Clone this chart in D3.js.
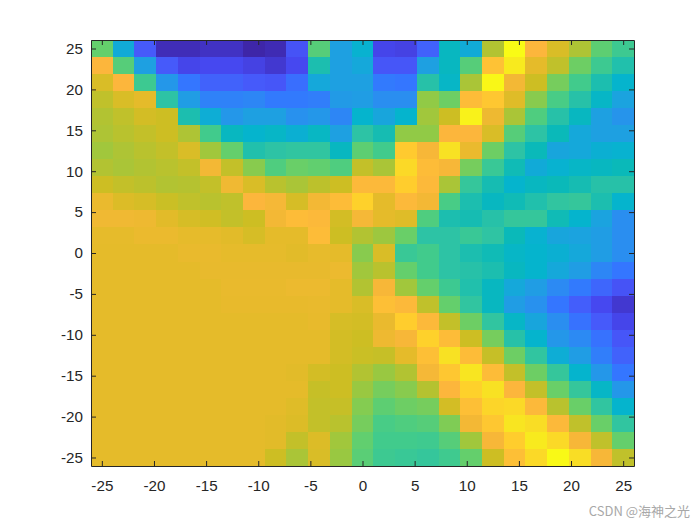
<!DOCTYPE html>
<html><head><meta charset="utf-8">
<script src="https://cdn.jsdelivr.net/npm/d3@7"></script>
<style>html,body{margin:0;padding:0;background:#fff}svg{display:block}</style>
</head><body><svg id="c" width="700" height="525"></svg>
<script>
const xTicks=[-25,-20,-15,-10,-5,0,5,10,15,20,25];
const yTicks=[-25,-20,-15,-10,-5,0,5,10,15,20,25];
const watermark="CSDN @海神之光";
const rows=[
[.63,.40,.17,.03,.03,.05,.05,.00,.02,.15,.61,.36,.43,.11,.10,.19,.46,.40,.72,1.0,.85,.78,.715,.62,.57],
[.85,.61,.36,.17,.11,.12,.12,.10,.07,.12,.50,.36,.39,.16,.16,.36,.46,.61,.87,.96,.80,.74,.64,.57,.51],
[.78,.85,.57,.33,.24,.19,.19,.17,.16,.22,.39,.36,.36,.25,.24,.52,.45,.71,.99,.83,.76,.65,.58,.50,.44],
[.74,.78,.80,.53,.35,.27,.27,.28,.25,.25,.26,.34,.35,.30,.30,.68,.64,.86,.88,.79,.67,.59,.52,.45,.37],
[.72,.74,.77,.76,.50,.41,.33,.36,.36,.31,.33,.28,.44,.38,.44,.70,.76,.98,.82,.71,.60,.52,.46,.36,.32],
[.715,.73,.745,.76,.715,.58,.46,.44,.45,.42,.455,.36,.53,.49,.68,.68,.85,.85,.78,.61,.53,.47,.39,.36,.36],
[.70,.715,.73,.745,.78,.70,.63,.51,.53,.54,.54,.46,.62,.58,.885,.84,.94,.81,.64,.53,.47,.38,.39,.42,.43],
[.72,.71,.72,.73,.745,.83,.745,.67,.60,.635,.625,.60,.745,.71,.92,.86,.84,.65,.56,.48,.40,.43,.45,.46,.47],
[.76,.745,.735,.72,.725,.745,.825,.78,.73,.71,.735,.76,.855,.855,.89,.855,.71,.55,.49,.44,.46,.47,.49,.52,.52],
[.81,.785,.775,.755,.74,.73,.74,.85,.835,.775,.83,.86,.90,.80,.855,.83,.59,.50,.46,.48,.51,.54,.55,.50,.44],
[.825,.825,.82,.795,.775,.765,.745,.76,.83,.86,.855,.77,.835,.80,.79,.60,.50,.49,.52,.55,.55,.48,.44,.37,.30],
[.802,.802,.812,.812,.802,.802,.795,.775,.80,.80,.86,.76,.72,.695,.635,.53,.53,.56,.535,.47,.43,.38,.37,.35,.30],
[.80,.80,.80,.80,.808,.808,.803,.803,.803,.795,.805,.80,.67,.78,.56,.58,.53,.50,.48,.45,.44,.42,.39,.35,.30],
[.80,.80,.80,.80,.80,.807,.807,.807,.807,.807,.807,.815,.70,.73,.63,.58,.53,.52,.50,.46,.44,.39,.35,.28,.24],
[.80,.80,.80,.80,.80,.80,.808,.808,.808,.815,.815,.80,.72,.84,.70,.63,.57,.51,.46,.39,.35,.29,.25,.20,.15],
[.80,.80,.80,.80,.80,.80,.806,.806,.806,.806,.808,.80,.78,.865,.855,.74,.63,.54,.46,.35,.31,.24,.18,.12,.07],
[.80,.80,.80,.80,.80,.80,.80,.80,.80,.80,.806,.775,.77,.81,.89,.855,.745,.64,.54,.45,.38,.30,.23,.17,.11],
[.80,.80,.80,.80,.80,.80,.80,.80,.80,.80,.80,.77,.76,.82,.84,.90,.86,.76,.65,.52,.44,.33,.29,.23,.16],
[.80,.80,.80,.80,.80,.80,.80,.80,.80,.80,.80,.77,.755,.75,.80,.865,.94,.86,.75,.64,.54,.41,.35,.26,.19],
[.80,.80,.80,.80,.80,.80,.80,.80,.80,.795,.77,.76,.72,.69,.72,.835,.88,.95,.86,.745,.64,.55,.44,.33,.24],
[.80,.80,.80,.80,.80,.80,.80,.80,.80,.80,.75,.76,.69,.65,.67,.725,.85,.90,.94,.85,.745,.635,.55,.45,.33],
[.80,.80,.80,.80,.80,.80,.80,.80,.80,.79,.745,.75,.665,.62,.64,.65,.77,.865,.91,.92,.855,.73,.635,.54,.44],
[.80,.80,.80,.80,.80,.80,.80,.80,.795,.785,.745,.73,.65,.59,.60,.61,.66,.83,.88,.95,.93,.855,.74,.635,.54],
[.80,.80,.80,.80,.80,.80,.80,.80,.795,.745,.785,.70,.625,.58,.58,.575,.61,.70,.84,.89,.96,.92,.84,.74,.63],
[.80,.80,.80,.80,.80,.80,.80,.80,.76,.71,.78,.69,.615,.57,.56,.55,.575,.63,.76,.865,.92,.995,.93,.84,.74]
];
const cmapStops=[0,.05,.12,.17,.24,.30,.36,.44,.47,.53,.58,.63,.68,.72,.76,.80,.85,.89,.94,1];
const cmapColors=["rgb(62,38,168)","rgb(65,50,195)","rgb(70,72,240)","rgb(70,90,250)","rgb(52,118,255)","rgb(42,142,240)","rgb(30,160,225)","rgb(5,180,205)","rgb(10,185,185)","rgb(45,195,165)","rgb(65,203,140)","rgb(100,207,108)","rgb(145,202,70)","rgb(178,195,50)","rgb(205,190,35)","rgb(229,187,42)","rgb(252,182,60)","rgb(255,205,45)","rgb(248,225,35)","rgb(249,251,21)"];

const L=91,R=634,T=40,B=466;
const lim=26.04;
const x=d3.scaleLinear().domain([-lim,lim]).range([L,R]);
const y=d3.scaleLinear().domain([-lim,lim]).range([B,T]);
const color=d3.scaleLinear().domain(cmapStops).range(cmapColors).interpolate(d3.interpolateRgb);
const n=rows.length, step=50/(n-1);
const svg=d3.select("#c");

const cells=rows.flatMap((r,i)=>r.map((v,j)=>({i,j,v})));
svg.append("g").attr("shape-rendering","crispEdges").selectAll("rect").data(cells).join("rect")
  .attr("x",d=>Math.round(x(-25+d.j*step-step/2)))
  .attr("width",d=>Math.round(x(-25+d.j*step+step/2))-Math.round(x(-25+d.j*step-step/2)))
  .attr("y",d=>Math.round(y(25-d.i*step+step/2)))
  .attr("height",d=>Math.round(y(25-d.i*step-step/2))-Math.round(y(25-d.i*step+step/2)))
  .attr("fill",d=>color(d.v));

const ink="#262626";
function style(g){
  g.select(".domain").attr("stroke",ink).attr("stroke-width",1);
  g.selectAll(".tick line").attr("stroke",ink).attr("stroke-width",1);
  g.selectAll("text").attr("fill",ink).attr("font-family","'Liberation Sans',Arial,sans-serif").attr("font-size",15.2);
}
const fmt=d=>String(d);
svg.append("g").attr("transform",`translate(0,${B})`)
  .call(d3.axisBottom(x).tickValues(xTicks).tickFormat(fmt).tickSizeInner(-5).tickSizeOuter(0).tickPadding(14)).call(style);
svg.append("g").attr("transform",`translate(0,${T})`)
  .call(d3.axisTop(x).tickValues(xTicks).tickFormat("").tickSizeInner(-5).tickSizeOuter(0)).call(style);
svg.append("g").attr("transform",`translate(${L},0)`)
  .call(d3.axisLeft(y).tickValues(yTicks).tickFormat(fmt).tickSizeInner(-5).tickSizeOuter(0).tickPadding(8)).call(style);
svg.append("g").attr("transform",`translate(${R},0)`)
  .call(d3.axisRight(y).tickValues(yTicks).tickFormat("").tickSizeInner(-5).tickSizeOuter(0)).call(style);

svg.append("text").attr("x",690).attr("y",516).attr("text-anchor","end")
  .attr("font-family","'Noto Sans CJK SC','Liberation Sans',sans-serif").attr("font-size",13)
  .attr("fill","#a8a8a8").text(watermark);
</script></body></html>
